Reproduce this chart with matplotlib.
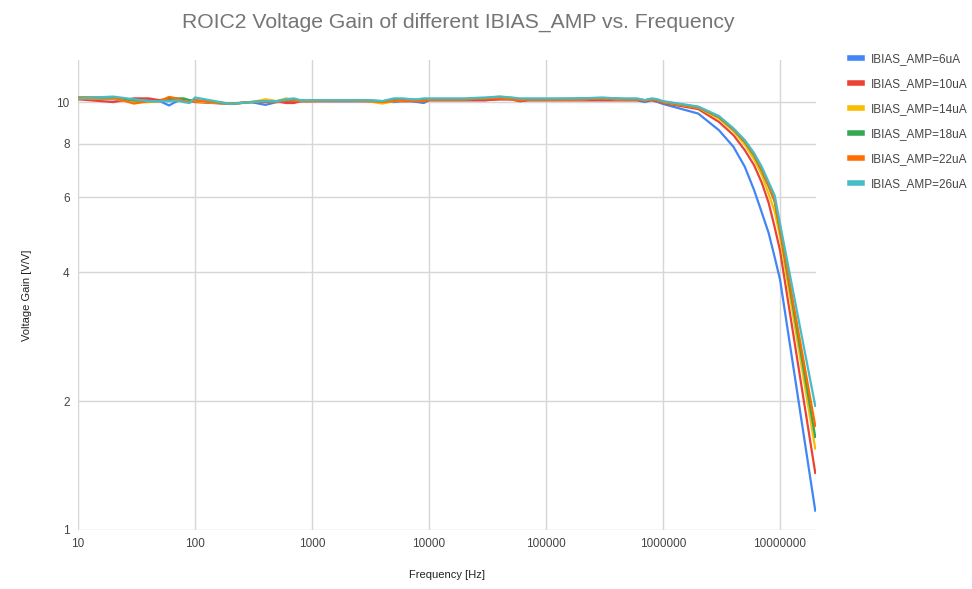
import matplotlib
matplotlib.use("Agg")
import matplotlib.pyplot as plt
from matplotlib.ticker import FixedLocator, FixedFormatter, NullLocator

plt.rcParams['font.family'] = ['Liberation Sans', 'DejaVu Sans']

freq = [10, 20, 30, 40, 50, 60, 70, 80, 90,
        100, 200, 300, 400, 500, 600, 700, 800, 900,
        1e3, 2e3, 3e3, 4e3, 5e3, 6e3, 7e3, 8e3, 9e3,
        1e4, 2e4, 3e4, 4e4, 5e4, 6e4, 7e4, 8e4, 9e4,
        1e5, 2e5, 3e5, 4e5, 5e5, 6e5, 7e5, 8e5, 9e5,
        1e6, 2e6, 3e6, 4e6, 5e6, 6e6, 7e6, 8e6, 9e6,
        1e7, 2e7]

gain_6uA = [10.2, 10.15, 10.05, 10.1, 10.05, 9.82, 10.05, 10.1, 10.05,
            10.05, 9.9, 10.0, 9.85, 10.0, 10.0, 10.0, 10.05, 10.05,
            10.05, 10.05, 10.05, 10.05, 10.0, 10.05, 10.05, 10.0, 9.95,
            10.1, 10.1, 10.1, 10.15, 10.15, 10.05, 10.1, 10.1, 10.1,
            10.1, 10.1, 10.1, 10.1, 10.1, 10.1, 10.0, 10.1, 10.0,
            9.9, 9.4, 8.6, 7.86, 7.06, 6.23, 5.51, 4.94, 4.34,
            3.85, 1.11]
gain_10uA = [10.15, 10.0, 10.2, 10.2, 10.1, 10.2, 10.05, 10.1, 10.05,
             10.0, 9.9, 10.0, 10.0, 10.05, 9.95, 9.95, 10.05, 10.05,
             10.05, 10.05, 10.05, 10.05, 10.1, 10.05, 10.05, 10.05, 10.05,
             10.1, 10.1, 10.1, 10.15, 10.15, 10.05, 10.1, 10.1, 10.1,
             10.1, 10.1, 10.1, 10.1, 10.1, 10.1, 10.05, 10.1, 10.05,
             9.95, 9.63, 8.99, 8.37, 7.72, 7.12, 6.47, 5.81, 5.1,
             4.5, 1.36]
gain_14uA = [10.2, 10.2, 9.98, 10.0, 10.05, 10.1, 10.1, 10.05, 10.05,
             10.05, 9.9, 9.98, 10.15, 10.05, 10.2, 10.1, 10.1, 10.05,
             10.1, 10.1, 10.05, 9.92, 10.05, 10.1, 10.1, 10.1, 10.1,
             10.15, 10.15, 10.2, 10.3, 10.25, 10.15, 10.15, 10.15, 10.15,
             10.15, 10.15, 10.2, 10.15, 10.15, 10.15, 10.1, 10.15, 10.1,
             10.0, 9.7, 9.15, 8.55, 7.95, 7.35, 6.75, 6.1, 5.55,
             4.85, 1.55]
gain_18uA = [10.25, 10.25, 10.1, 10.05, 10.05, 10.1, 10.2, 10.2, 10.1,
             10.1, 9.9, 10.0, 10.05, 10.05, 10.1, 10.1, 10.1, 10.05,
             10.1, 10.1, 10.1, 10.05, 10.1, 10.15, 10.15, 10.1, 10.1,
             10.15, 10.15, 10.2, 10.25, 10.2, 10.15, 10.15, 10.15, 10.15,
             10.15, 10.2, 10.2, 10.2, 10.15, 10.15, 10.1, 10.15, 10.1,
             10.02, 9.72, 9.22, 8.62, 8.07, 7.5, 6.9, 6.35, 5.85,
             5.0, 1.65]
gain_22uA = [10.25, 10.25, 9.92, 10.05, 10.05, 10.28, 10.2, 10.05, 10.0,
             10.1, 9.92, 10.0, 10.05, 10.0, 10.1, 10.1, 10.05, 10.05,
             10.05, 10.1, 10.05, 10.0, 10.05, 10.1, 10.1, 10.05, 10.05,
             10.15, 10.15, 10.2, 10.2, 10.15, 10.1, 10.15, 10.15, 10.15,
             10.15, 10.15, 10.2, 10.15, 10.15, 10.15, 10.1, 10.15, 10.1,
             10.02, 9.73, 9.25, 8.65, 8.1, 7.55, 6.95, 6.4, 5.9,
             5.05, 1.75]
gain_26uA = [10.2, 10.3, 10.15, 10.05, 10.05, 10.05, 10.1, 10.0, 9.95,
             10.25, 9.9, 10.0, 10.05, 10.05, 10.15, 10.2, 10.1, 10.1,
             10.1, 10.1, 10.1, 10.05, 10.2, 10.2, 10.15, 10.15, 10.2,
             10.2, 10.2, 10.25, 10.3, 10.25, 10.2, 10.2, 10.2, 10.2,
             10.2, 10.2, 10.25, 10.2, 10.2, 10.2, 10.1, 10.2, 10.15,
             10.05, 9.76, 9.28, 8.68, 8.15, 7.6, 7.05, 6.5, 6.05,
             5.2, 1.95]

series_labels = ["IBIAS_AMP=6uA", "IBIAS_AMP=10uA", "IBIAS_AMP=14uA",
                 "IBIAS_AMP=18uA", "IBIAS_AMP=22uA", "IBIAS_AMP=26uA"]
series_values = [gain_6uA, gain_10uA, gain_14uA, gain_18uA, gain_22uA, gain_26uA]
colors = ["#4285F4", "#EA4335", "#FBBC04", "#34A853", "#FF6D01", "#46BDC6"]

x_ticks = [10, 100, 1000, 10000, 100000, 1000000, 10000000]
x_tick_labels = ["10", "100", "1000", "10000", "100000", "1000000", "10000000"]
y_ticks = [1, 2, 4, 6, 8, 10]
y_tick_labels = ["1", "2", "4", "6", "8", "10"]

fig = plt.figure(figsize=(9.72, 5.89), dpi=100)
ax = fig.add_axes([78/972, 1-530/589, (816-78)/972, (530-60)/589])

lines = []
for vals, lab, col in zip(series_values, series_labels, colors):
    ln, = ax.plot(freq, vals, color=col, lw=1.6, label=lab, solid_joinstyle='round')
    lines.append(ln)

ax.set_xscale('log')
ax.set_yscale('log')
ax.set_xlim(10, 2.03e7)
ax.set_ylim(1, 12.54)

ax.xaxis.set_major_locator(FixedLocator(x_ticks))
ax.xaxis.set_major_formatter(FixedFormatter(x_tick_labels))
ax.xaxis.set_minor_locator(NullLocator())
ax.yaxis.set_major_locator(FixedLocator(y_ticks))
ax.yaxis.set_major_formatter(FixedFormatter(y_tick_labels))
ax.yaxis.set_minor_locator(NullLocator())

ax.grid(True, color="#d6d6d6", lw=1.0)
ax.set_axisbelow(True)
for s in ax.spines.values():
    s.set_visible(False)
ax.tick_params(axis='both', length=0, labelsize=8.5, labelcolor="#444444")
ax.tick_params(axis='x', pad=6)
ax.tick_params(axis='y', pad=6)

fig.text(458/972, 1-22/589, "ROIC2 Voltage Gain of different IBIAS_AMP vs. Frequency",
         ha='center', va='center', fontsize=15.2, color="#757575")
fig.text(447/972, 1-575/589, "Frequency [Hz]", ha='center', va='center',
         fontsize=8, color="#222222")
fig.text(27/972, 1-295/589, "Voltage Gain [V/V]", ha='center', va='center',
         rotation=90, fontsize=8, color="#222222")

leg = fig.legend(handles=lines, loc='upper left', bbox_to_anchor=(845/972, 1-48/589),
                 frameon=False, fontsize=8.5, handlelength=1.0, handletextpad=0.75,
                 labelspacing=1.1, borderaxespad=0)
for t in leg.get_texts():
    t.set_color("#444444")
for h in leg.legend_handles:
    h.set_linewidth(4)

fig.savefig("out.png", dpi=100)
